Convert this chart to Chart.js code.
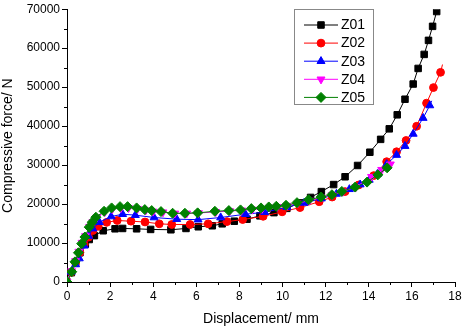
<!DOCTYPE html>
<html>
<head>
<meta charset="utf-8">
<script src="https://cdn.jsdelivr.net/npm/chart.js@4.4.0/dist/chart.umd.min.js"></script>
<style>
  html, body { margin: 0; padding: 0; background: #fff; }
  #wrap { width: 464px; height: 328px; position: relative; }
</style>
</head>
<body>
<div id="wrap"><canvas id="grafico"></canvas></div>
<script>
// valores (deslocamento em mm, forca em N)
const z01X = [0, 0.2, 0.4, 0.6, 0.85, 1.03, 1.27, 1.68, 2.23, 2.58, 3.23, 3.88, 4.82, 5.52, 6.09, 6.74, 7.2, 7.76, 8.35, 8.95, 9.6, 10.2, 10.8, 11.3, 11.8, 12.37, 12.9, 13.48, 14.05, 14.55, 14.95, 15.32, 15.68, 16.06, 16.29, 16.57, 16.77, 16.96, 17.15];
const z01Y = [0, 2400, 5000, 7500, 9700, 10900, 11900, 13150, 13650, 13740, 13650, 13490, 13400, 13740, 14170, 14430, 14930, 15600, 16120, 16970, 17800, 18900, 20300, 21700, 23200, 25000, 27000, 29900, 33300, 36600, 39300, 42900, 46900, 50800, 54800, 58400, 62000, 65600, 69400];

const z02X = [0, 0.2, 0.4, 0.6, 0.8, 1.0, 1.2, 1.45, 1.84, 2.33, 2.97, 3.62, 4.28, 4.86, 5.71, 6.55, 7.42, 8.15, 9.1, 9.98, 10.81, 11.7, 12.3, 12.9, 13.53, 14.23, 14.83, 15.29, 15.73, 16.22, 16.68, 17.0, 17.33, 17.42];
const z02Y = [0, 2500, 5000, 7600, 9700, 11500, 13200, 14300, 15300, 15780, 15600, 15400, 14930, 14760, 14760, 14930, 15500, 16030, 16850, 18000, 19100, 20600, 21800, 23200, 24900, 27300, 30870, 33420, 36310, 39960, 45900, 49890, 53800, 55800];

const z03X = [0, 0.2, 0.4, 0.57, 0.8, 1.0, 1.2, 1.5, 2.05, 2.58, 3.17, 4.04, 5.09, 6.08, 7.13, 8.28, 9.17, 10.2, 11.0, 11.8, 12.5, 13.1, 13.6, 14.02, 14.4, 14.83, 15.29, 15.68, 16.06, 16.52, 16.83, 16.92];
const z03Y = [0, 2600, 4500, 6030, 9300, 11800, 13700, 15350, 16800, 17400, 17150, 16550, 16120, 16000, 16550, 17400, 17900, 19200, 20300, 21400, 22600, 23800, 25000, 26200, 27700, 30210, 32580, 34870, 38000, 42070, 45300, 46500];

const z04X = [0, 0.22, 0.4, 0.55, 0.7, 0.86, 1.05, 1.2, 1.38, 1.75, 2.1, 2.5, 2.85, 3.27, 3.65, 4.0, 4.45, 5.0, 5.55, 6.1, 6.9, 7.55, 8.1, 8.6, 9.05, 9.4, 9.75, 10.2, 10.7, 11.25, 11.8, 12.3, 12.8, 13.4, 14.13, 14.6, 15.0];
const z04Y = [0, 2800, 5400, 7800, 10100, 11800, 14200, 15400, 16600, 18000, 18700, 19000, 19000, 18800, 18400, 18100, 17900, 17600, 17600, 17700, 18000, 18200, 18400, 18600, 18800, 19100, 19300, 19600, 20200, 20900, 21700, 22300, 23200, 24400, 27000, 28800, 30200];

const z05X = [0, 0.22, 0.37, 0.53, 0.68, 0.83, 1.03, 1.17, 1.34, 1.72, 2.07, 2.46, 2.81, 3.23, 3.61, 3.93, 4.36, 4.9, 5.47, 6.06, 6.86, 7.51, 8.05, 8.55, 9.0, 9.36, 9.71, 10.16, 10.67, 11.21, 11.79, 12.29, 12.75, 13.37, 13.92, 14.42, 14.85];
const z05Y = [0, 2630, 5170, 7500, 9840, 11540, 14080, 15350, 16620, 18150, 19010, 19340, 19340, 19010, 18580, 18330, 18070, 17640, 17640, 17740, 18150, 18330, 18500, 18830, 19010, 19260, 19430, 19680, 20360, 21120, 21810, 22400, 23240, 24360, 25630, 27490, 29300];

const nomes = ["Z01", "Z02", "Z03", "Z04", "Z05"];
const cores = ["#000000", "#ff0000", "#0000ff", "#ff00ff", "#008000"];
const marcadores = ["rect", "circle", "triangle", "triangle", "rectRot"];
const rotacoes = [0, 0, 0, 180, 0];
const raios = [4.6, 3.9, 4.6, 4.6, 5];

const eixoXTicks = [0, 18, 2];
const eixoYTicks = [0, 70000, 10000];

const fonte = "'Liberation Sans', Arial, sans-serif";

function pares(xs, ys) {
  return xs.map((x, i) => ({ x: x, y: ys[i] }));
}

const series = [pares(z01X, z01Y), pares(z02X, z02Y), pares(z03X, z03Y), pares(z04X, z04Y), pares(z05X, z05Y)];
// pontos finais sem marcador para Z02 e Z03 (a linha passa um pouco do ultimo simbolo)
const semMarcadorFinal = [false, true, true, false, false];

const datasets = series.map((dados, i) => ({
  label: nomes[i],
  data: dados,
  borderColor: cores[i],
  backgroundColor: cores[i],
  borderWidth: 1,
  pointStyle: marcadores[i],
  pointRotation: rotacoes[i],
  pointRadius: (ctx) => (semMarcadorFinal[i] && ctx.dataIndex == dados.length - 1) ? 0 : raios[i],
  pointBorderWidth: 1,
  showLine: true,
  tension: 0,
  order: 5 - i,
}));

// ticks menores entre os principais
const ticksMenores = {
  id: "ticksMenores",
  afterDraw(chart) {
    const c = chart.ctx;
    const sx = chart.scales.x, sy = chart.scales.y;
    c.save();
    c.strokeStyle = "#000";
    c.lineWidth = 1;
    c.beginPath();
    for (let v = 1; v < eixoXTicks[1]; v += 2) {
      const px = Math.round(sx.getPixelForValue(v)) + 0.5;
      c.moveTo(px, sx.top);
      c.lineTo(px, sx.top + 3);
    }
    for (let v = 5000; v < eixoYTicks[1]; v += 10000) {
      const py = Math.round(sy.getPixelForValue(v)) + 0.5;
      c.moveTo(sy.right, py);
      c.lineTo(sy.right - 3, py);
    }
    c.stroke();
    c.restore();
  }
};

// legenda dentro da area do grafico, como na figura
const legendaCaixa = {
  id: "legendaCaixa",
  afterDraw(chart) {
    const c = chart.ctx;
    const x0 = 294, y0 = 9, w = 79, h = 95;
    c.save();
    c.fillStyle = "#fff";
    c.fillRect(x0, y0, w, h);
    c.strokeStyle = "#888";
    c.lineWidth = 1;
    c.strokeRect(x0 + 0.5, y0 + 0.5, w, h);
    nomes.forEach((nome, i) => {
      const y = 25 + i * 18.1;
      c.strokeStyle = cores[i];
      c.lineWidth = 1;
      c.beginPath();
      c.moveTo(x0 + 10, y);
      c.lineTo(x0 + 44, y);
      c.stroke();
      c.fillStyle = cores[i];
      c.strokeStyle = cores[i];
      Chart.helpers.drawPoint(c, { pointStyle: marcadores[i], rotation: rotacoes[i], radius: raios[i], borderWidth: 1 }, x0 + 27, y);
      c.fillStyle = "#000";
      c.font = "14px " + fonte;
      c.textBaseline = "middle";
      c.textAlign = "left";
      c.fillText(nome, x0 + 47, y + 0.5);
    });
    c.restore();
  }
};

const ctx = document.getElementById("grafico").getContext("2d");
let myChart = new Chart(ctx, {
  type: "scatter",
  data: { datasets: datasets },
  options: {
    responsive: true,
    maintainAspectRatio: false,
    animation: false,
    layout: { padding: { top: 7, right: 9, left: 0, bottom: 0 } },
    plugins: {
      legend: { display: false },
      tooltip: { enabled: false },
    },
    scales: {
      x: {
        type: "linear",
        min: eixoXTicks[0],
        max: eixoXTicks[1],
        ticks: { stepSize: eixoXTicks[2], color: "#000", font: { family: fonte, size: 12 }, padding: 2 },
        grid: { drawOnChartArea: false, tickLength: 5, tickColor: "#000" },
        border: { color: "#000", width: 1 },
        title: { display: true, text: "Displacement/ mm", color: "#000", font: { family: fonte, size: 14 }, padding: { top: 6, bottom: 0 } },
        afterFit(scale) { scale.height = 46; },
      },
      y: {
        type: "linear",
        min: eixoYTicks[0],
        max: eixoYTicks[1],
        ticks: { stepSize: eixoYTicks[2], color: "#000", font: { family: fonte, size: 12 }, padding: 2, callback: (v) => String(v) },
        grid: { drawOnChartArea: false, tickLength: 5, tickColor: "#000" },
        border: { color: "#000", width: 1 },
        title: { display: true, text: "Compressive force/ N", color: "#000", font: { family: fonte, size: 14 }, padding: { top: 0, bottom: 2 } },
        afterFit(scale) { scale.width = 67; },
      },
    },
  },
  plugins: [ticksMenores, legendaCaixa],
});
</script>
</body>
</html>
